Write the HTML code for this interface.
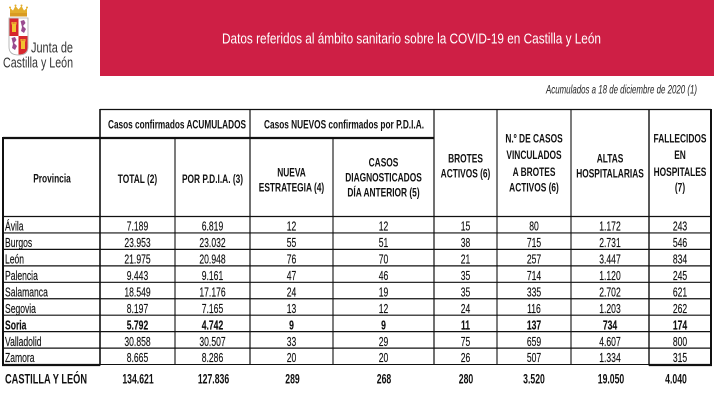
<!DOCTYPE html>
<html><head><meta charset="utf-8">
<style>
html,body{margin:0;padding:0;background:#fff;}
svg{display:block;}
text{font-family:"Liberation Sans",Arial,sans-serif;fill:#111;}
.h{font-weight:bold;font-size:12.3px;text-anchor:middle;}
.d{font-size:12.8px;text-anchor:middle;stroke:#111;stroke-width:0.15;}
.p{font-size:12.8px;stroke:#111;stroke-width:0.15;}
.b{font-weight:bold;}
.t{font-weight:bold;font-size:14px;text-anchor:middle;}
</style></head>
<body>
<svg width="714" height="415" viewBox="0 0 714 415" xmlns="http://www.w3.org/2000/svg">
<rect width="714" height="415" fill="#fff"/>
<!-- banner -->
<rect x="100" y="0" width="614" height="76" fill="#CE1F45"/>
<text x="222" y="43.5" font-size="14.5" textLength="379" lengthAdjust="spacingAndGlyphs" style="fill:#fff">Datos referidos al ámbito sanitario sobre la COVID-19 en Castilla y León</text>

<!-- logo -->
<g>
  <path d="M10,13 L10,8 L13,10.5 L15.5,6 L18.5,9.5 L21.5,6 L24,10.5 L27,8 L27,13 Z" fill="#E3AE2C"/>
  <circle cx="10" cy="7.5" r="1" fill="#E3AE2C"/><circle cx="15.5" cy="5.5" r="1" fill="#E3AE2C"/>
  <circle cx="21.5" cy="5.5" r="1" fill="#E3AE2C"/><circle cx="27" cy="7.5" r="1" fill="#E3AE2C"/>
  <rect x="10" y="13" width="17" height="3.5" fill="#D99B22"/>
  <path d="M9,18 H28 V47 Q28,55 18.5,55 Q9,55 9,47 Z" fill="#fff" stroke="#aaa" stroke-width="0.8"/>
  <rect x="9.5" y="18.5" width="9" height="17.5" fill="#D6282E"/>
  <rect x="12" y="24" width="4" height="8" fill="#F2C230"/>
  <rect x="11.5" y="22" width="1.3" height="2.5" fill="#F2C230"/><rect x="13.4" y="22" width="1.3" height="2.5" fill="#F2C230"/><rect x="15.2" y="22" width="1.3" height="2.5" fill="#F2C230"/>
  <path d="M18.5,36 H27.5 V47 Q27.5,54.5 18.5,54.5 Z" fill="#D6282E"/>
  <rect x="21" y="41" width="4" height="8" fill="#F2C230"/>
  <rect x="20.5" y="39" width="1.3" height="2.5" fill="#F2C230"/><rect x="22.4" y="39" width="1.3" height="2.5" fill="#F2C230"/><rect x="24.2" y="39" width="1.3" height="2.5" fill="#F2C230"/>
  <path d="M20.5,21 L24,20 L25.5,23 L23,26 L26,29 L24,33 L21,31 L22,27 Z" fill="#9A4B8F"/>
  <path d="M11.5,38 L15,37 L16.5,40 L14,43 L17,46 L15,50 L12,48 L13,44 Z" fill="#9A4B8F"/>
</g>
<text x="31" y="52.5" font-size="14.5" textLength="42" lengthAdjust="spacingAndGlyphs" style="fill:#333">Junta de</text>
<text x="3" y="67.5" font-size="14.5" textLength="70" lengthAdjust="spacingAndGlyphs" style="fill:#333">Castilla y León</text>

<!-- subtitle -->
<text x="546" y="93.5" font-size="12" font-style="italic" textLength="151" lengthAdjust="spacingAndGlyphs" style="fill:#222">Acumulados a 18 de diciembre de 2020 (1)</text>

<!-- table lines -->
<g stroke="#111" fill="none">
  <line x1="100" y1="109.5" x2="711" y2="109.5" stroke-width="1.2"/>
  <line x1="3" y1="138" x2="434" y2="138" stroke-width="2.2"/>
  <line x1="3" y1="137" x2="3" y2="365.5" stroke-width="2"/>
  <line x1="100" y1="109" x2="100" y2="365.5" stroke-width="1.6"/>
  <line x1="175" y1="138" x2="175" y2="364.5" stroke-width="1.1"/>
  <line x1="250" y1="109" x2="250" y2="364.5" stroke-width="1.2"/>
  <line x1="333" y1="138" x2="333" y2="364.5" stroke-width="1.1"/>
  <line x1="434" y1="109" x2="434" y2="364.5" stroke-width="1.2"/>
  <line x1="497" y1="109" x2="497" y2="364.5" stroke-width="1.1"/>
  <line x1="571" y1="109" x2="571" y2="364.5" stroke-width="1.1"/>
  <line x1="649" y1="109" x2="649" y2="365.5" stroke-width="1.4"/>
  <line x1="711" y1="109" x2="711" y2="365.5" stroke-width="2"/>
  <line x1="3" y1="216.5" x2="711" y2="216.5" stroke-width="1.3"/>
  <line x1="3" y1="232.95" x2="711" y2="232.95" stroke-width="1.2"/>
  <line x1="3" y1="249.4" x2="711" y2="249.4" stroke-width="1.2"/>
  <line x1="3" y1="265.85" x2="711" y2="265.85" stroke-width="1.2"/>
  <line x1="3" y1="282.3" x2="711" y2="282.3" stroke-width="1.2"/>
  <line x1="3" y1="298.75" x2="711" y2="298.75" stroke-width="1.2"/>
  <line x1="3" y1="315.2" x2="711" y2="315.2" stroke-width="1.2"/>
  <line x1="3" y1="331.65" x2="711" y2="331.65" stroke-width="1.2"/>
  <line x1="3" y1="348.1" x2="711" y2="348.1" stroke-width="1.2"/>
  <line x1="100" y1="364.5" x2="649" y2="364.5" stroke-width="1.1"/>
  <line x1="2" y1="365" x2="100" y2="365" stroke-width="2.2"/>
  <line x1="649" y1="365" x2="712" y2="365" stroke-width="2.2"/>
</g>

<!-- group headers -->
<text class="b" x="108" y="128.5" font-size="12.3" textLength="138" lengthAdjust="spacingAndGlyphs">Casos confirmados ACUMULADOS</text>
<text class="b" x="264" y="128.5" font-size="12.3" textLength="160" lengthAdjust="spacingAndGlyphs">Casos NUEVOS confirmados por P.D.I.A.</text>

<!-- column headers -->
<text class="h" transform="translate(52,182.5) scale(.68,1)">Provincia</text>
<text class="h" transform="translate(137.5,183) scale(.68,1)">TOTAL (2)</text>
<text class="h" transform="translate(212.5,183) scale(.68,1)">POR P.D.I.A. (3)</text>
<text class="h" transform="translate(291.5,176.5) scale(.68,1)">NUEVA</text>
<text class="h" transform="translate(291.5,191.5) scale(.68,1)">ESTRATEGIA (4)</text>
<text class="h" transform="translate(383.5,166.5) scale(.68,1)">CASOS</text>
<text class="h" transform="translate(383.5,181.5) scale(.68,1)">DIAGNOSTICADOS</text>
<text class="h" transform="translate(383.5,196.5) scale(.68,1)">DÍA ANTERIOR (5)</text>
<text class="h" transform="translate(465.5,162.5) scale(.68,1)">BROTES</text>
<text class="h" transform="translate(465.5,177.5) scale(.68,1)">ACTIVOS (6)</text>
<text class="h" transform="translate(534,142.5) scale(.68,1)">N.º DE CASOS</text>
<text class="h" transform="translate(534,159) scale(.68,1)">VINCULADOS</text>
<text class="h" transform="translate(534,176) scale(.68,1)">A BROTES</text>
<text class="h" transform="translate(534,191.5) scale(.68,1)">ACTIVOS (6)</text>
<text class="h" transform="translate(610,162.5) scale(.68,1)">ALTAS</text>
<text class="h" transform="translate(610,177.5) scale(.68,1)">HOSPITALARIAS</text>
<text class="h" transform="translate(680,142.5) scale(.68,1)">FALLECIDOS</text>
<text class="h" transform="translate(680,159) scale(.68,1)">EN</text>
<text class="h" transform="translate(680,176) scale(.68,1)">HOSPITALES</text>
<text class="h" transform="translate(680,191.5) scale(.68,1)">(7)</text>

<!-- rows -->
<g>
<text class="p" transform="translate(5,230.6) scale(.67,1)">Ávila</text>
<text class="d" transform="translate(137.5,230.6) scale(.67,1)">7.189</text>
<text class="d" transform="translate(212.5,230.6) scale(.67,1)">6.819</text>
<text class="d" transform="translate(291.5,230.6) scale(.67,1)">12</text>
<text class="d" transform="translate(383.5,230.6) scale(.67,1)">12</text>
<text class="d" transform="translate(465.5,230.6) scale(.67,1)">15</text>
<text class="d" transform="translate(534,230.6) scale(.67,1)">80</text>
<text class="d" transform="translate(610,230.6) scale(.67,1)">1.172</text>
<text class="d" transform="translate(680,230.6) scale(.67,1)">243</text>

<text class="p" transform="translate(5,247.1) scale(.67,1)">Burgos</text>
<text class="d" transform="translate(137.5,247.1) scale(.67,1)">23.953</text>
<text class="d" transform="translate(212.5,247.1) scale(.67,1)">23.032</text>
<text class="d" transform="translate(291.5,247.1) scale(.67,1)">55</text>
<text class="d" transform="translate(383.5,247.1) scale(.67,1)">51</text>
<text class="d" transform="translate(465.5,247.1) scale(.67,1)">38</text>
<text class="d" transform="translate(534,247.1) scale(.67,1)">715</text>
<text class="d" transform="translate(610,247.1) scale(.67,1)">2.731</text>
<text class="d" transform="translate(680,247.1) scale(.67,1)">546</text>

<text class="p" transform="translate(5,263.5) scale(.67,1)">León</text>
<text class="d" transform="translate(137.5,263.5) scale(.67,1)">21.975</text>
<text class="d" transform="translate(212.5,263.5) scale(.67,1)">20.948</text>
<text class="d" transform="translate(291.5,263.5) scale(.67,1)">76</text>
<text class="d" transform="translate(383.5,263.5) scale(.67,1)">70</text>
<text class="d" transform="translate(465.5,263.5) scale(.67,1)">21</text>
<text class="d" transform="translate(534,263.5) scale(.67,1)">257</text>
<text class="d" transform="translate(610,263.5) scale(.67,1)">3.447</text>
<text class="d" transform="translate(680,263.5) scale(.67,1)">834</text>

<text class="p" transform="translate(5,280) scale(.67,1)">Palencia</text>
<text class="d" transform="translate(137.5,280) scale(.67,1)">9.443</text>
<text class="d" transform="translate(212.5,280) scale(.67,1)">9.161</text>
<text class="d" transform="translate(291.5,280) scale(.67,1)">47</text>
<text class="d" transform="translate(383.5,280) scale(.67,1)">46</text>
<text class="d" transform="translate(465.5,280) scale(.67,1)">35</text>
<text class="d" transform="translate(534,280) scale(.67,1)">714</text>
<text class="d" transform="translate(610,280) scale(.67,1)">1.120</text>
<text class="d" transform="translate(680,280) scale(.67,1)">245</text>

<text class="p" transform="translate(5,296.4) scale(.67,1)">Salamanca</text>
<text class="d" transform="translate(137.5,296.4) scale(.67,1)">18.549</text>
<text class="d" transform="translate(212.5,296.4) scale(.67,1)">17.176</text>
<text class="d" transform="translate(291.5,296.4) scale(.67,1)">24</text>
<text class="d" transform="translate(383.5,296.4) scale(.67,1)">19</text>
<text class="d" transform="translate(465.5,296.4) scale(.67,1)">35</text>
<text class="d" transform="translate(534,296.4) scale(.67,1)">335</text>
<text class="d" transform="translate(610,296.4) scale(.67,1)">2.702</text>
<text class="d" transform="translate(680,296.4) scale(.67,1)">621</text>

<text class="p" transform="translate(5,312.9) scale(.67,1)">Segovia</text>
<text class="d" transform="translate(137.5,312.9) scale(.67,1)">8.197</text>
<text class="d" transform="translate(212.5,312.9) scale(.67,1)">7.165</text>
<text class="d" transform="translate(291.5,312.9) scale(.67,1)">13</text>
<text class="d" transform="translate(383.5,312.9) scale(.67,1)">12</text>
<text class="d" transform="translate(465.5,312.9) scale(.67,1)">24</text>
<text class="d" transform="translate(534,312.9) scale(.67,1)">116</text>
<text class="d" transform="translate(610,312.9) scale(.67,1)">1.203</text>
<text class="d" transform="translate(680,312.9) scale(.67,1)">262</text>

<text class="p b" transform="translate(5,329.3) scale(.67,1)">Soria</text>
<text class="d b" transform="translate(137.5,329.3) scale(.67,1)">5.792</text>
<text class="d b" transform="translate(212.5,329.3) scale(.67,1)">4.742</text>
<text class="d b" transform="translate(291.5,329.3) scale(.67,1)">9</text>
<text class="d b" transform="translate(383.5,329.3) scale(.67,1)">9</text>
<text class="d b" transform="translate(465.5,329.3) scale(.67,1)">11</text>
<text class="d b" transform="translate(534,329.3) scale(.67,1)">137</text>
<text class="d b" transform="translate(610,329.3) scale(.67,1)">734</text>
<text class="d b" transform="translate(680,329.3) scale(.67,1)">174</text>

<text class="p" transform="translate(5,345.8) scale(.67,1)">Valladolid</text>
<text class="d" transform="translate(137.5,345.8) scale(.67,1)">30.858</text>
<text class="d" transform="translate(212.5,345.8) scale(.67,1)">30.507</text>
<text class="d" transform="translate(291.5,345.8) scale(.67,1)">33</text>
<text class="d" transform="translate(383.5,345.8) scale(.67,1)">29</text>
<text class="d" transform="translate(465.5,345.8) scale(.67,1)">75</text>
<text class="d" transform="translate(534,345.8) scale(.67,1)">659</text>
<text class="d" transform="translate(610,345.8) scale(.67,1)">4.607</text>
<text class="d" transform="translate(680,345.8) scale(.67,1)">800</text>

<text class="p" transform="translate(5,362.2) scale(.67,1)">Zamora</text>
<text class="d" transform="translate(137.5,362.2) scale(.67,1)">8.665</text>
<text class="d" transform="translate(212.5,362.2) scale(.67,1)">8.286</text>
<text class="d" transform="translate(291.5,362.2) scale(.67,1)">20</text>
<text class="d" transform="translate(383.5,362.2) scale(.67,1)">20</text>
<text class="d" transform="translate(465.5,362.2) scale(.67,1)">26</text>
<text class="d" transform="translate(534,362.2) scale(.67,1)">507</text>
<text class="d" transform="translate(610,362.2) scale(.67,1)">1.334</text>
<text class="d" transform="translate(680,362.2) scale(.67,1)">315</text>
</g>

<!-- total row -->
<text class="b" x="5" y="383.5" font-size="14" textLength="82" lengthAdjust="spacingAndGlyphs">CASTILLA Y LEÓN</text>
<text class="t" transform="translate(138,383.5) scale(.62,1)">134.621</text>
<text class="t" transform="translate(213.5,383.5) scale(.62,1)">127.836</text>
<text class="t" transform="translate(292.5,383.5) scale(.62,1)">289</text>
<text class="t" transform="translate(384,383.5) scale(.62,1)">268</text>
<text class="t" transform="translate(466,383.5) scale(.62,1)">280</text>
<text class="t" transform="translate(534,383.5) scale(.62,1)">3.520</text>
<text class="t" transform="translate(611,383.5) scale(.62,1)">19.050</text>
<text class="t" transform="translate(676,383.5) scale(.62,1)">4.040</text>
</svg>
</body></html>
